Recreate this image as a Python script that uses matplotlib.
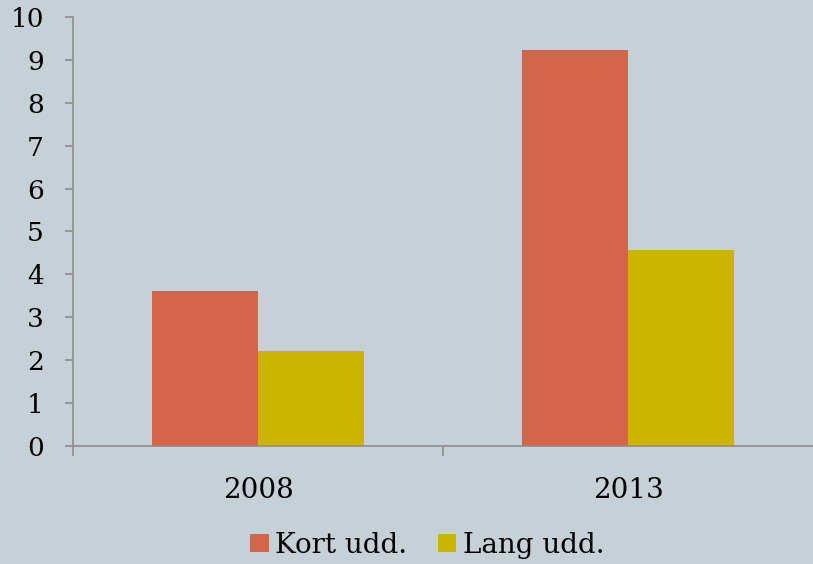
import matplotlib
matplotlib.use('Agg')
import matplotlib.pyplot as plt
import numpy as np

# data
years = ['2008', '2013']
kort_udd = [3.62, 9.22]
lang_udd = [2.22, 4.57]
series_names = ['Kort udd.', 'Lang udd.']

bg = '#C5D0D7'
axis_col = '#8C8C8C'
kort_col = '#D4654A'
lang_col = '#CDB400'

plt.rcParams['font.family'] = ['DejaVu Serif']

fig = plt.figure(figsize=(8.13, 5.64), dpi=100)
fig.patch.set_facecolor(bg)
ax = fig.add_axes([0.0898, 0.2092, 0.9102, 0.7607])
ax.set_facecolor(bg)

x = np.arange(len(years))
w = 0.2865
ax.bar(x - w/2, kort_udd, w, color=kort_col, label=series_names[0])
ax.bar(x + w/2, lang_udd, w, color=lang_col, label=series_names[1])

ax.set_xlim(-0.5, 1.5)
ax.set_ylim(0, 10)
ax.set_yticks(range(0, 11))

for s in ['top', 'right']:
    ax.spines[s].set_visible(False)
for s in ['left', 'bottom']:
    ax.spines[s].set_color(axis_col)
    ax.spines[s].set_linewidth(1.2)

ax.tick_params(axis='y', direction='out', length=6, width=1.2, color=axis_col,
               labelsize=19, pad=15)
ax.set_xticks(x)
ax.set_xticklabels(years)
ax.tick_params(axis='x', which='major', length=0, labelsize=20, pad=22)
ax.set_xticks([-0.5, 0.5], minor=True)
ax.tick_params(axis='x', which='minor', direction='out', length=7, width=1.2, color=axis_col)

fig.legend(loc='center', bbox_to_anchor=(0.526, 0.033), ncol=2, frameon=False,
           fontsize=20, handlelength=0.65, handleheight=0.65, handletextpad=0.25,
           columnspacing=1.1)

fig.savefig('out.png', dpi=100, facecolor=bg)
